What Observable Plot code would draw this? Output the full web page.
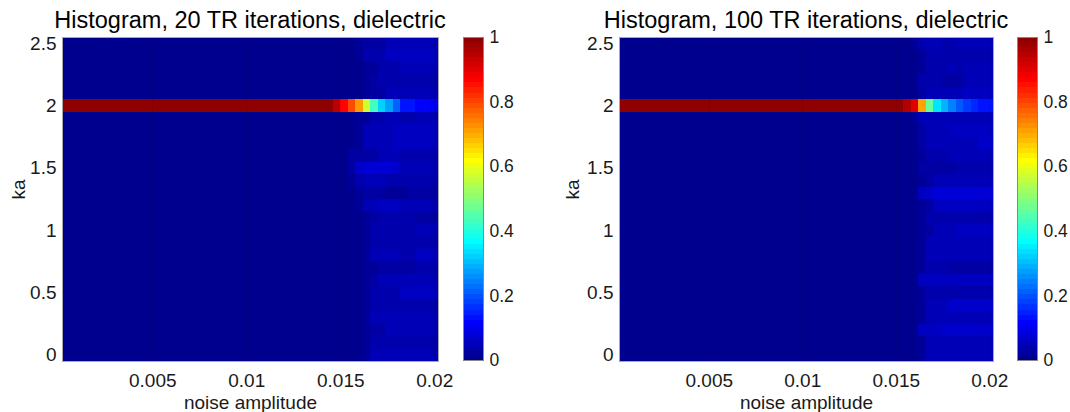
<!DOCTYPE html>
<html>
<head>
<meta charset="utf-8">
<script src="https://cdn.jsdelivr.net/npm/d3@7"></script>
<script src="https://cdn.jsdelivr.net/npm/@observablehq/plot@0.6"></script>
<style>
  body { margin: 0; background: #fff; }
  #chart { position: relative; width: 1070px; height: 412px; overflow: hidden;
           font-family: "Liberation Sans", Arial, Helvetica, sans-serif; color: #1a1a1a; }
  #chart svg { position: absolute; top: 0; }
  .title { position: absolute; top: 9px; font-size: 23.5px; line-height: 1; white-space: nowrap;
           transform: translateX(-50%); color: #000; }
</style>
</head>
<body>
<div id="chart"></div>
<script>
// ---------- data ----------
const titles = ["Histogram, 20 TR iterations, dielectric", "Histogram, 100 TR iterations, dielectric"];
const xLabel = "noise amplitude";
const yLabel = "ka";

// noise amplitude bin centres (columns)
const noiseAmplitude = [
  0.0004, 0.0008, 0.0012, 0.0016, 0.002, 0.0024, 0.0028, 0.0032, 0.0036, 0.004,
  0.0044, 0.0048, 0.0052, 0.0056, 0.006, 0.0064, 0.0068, 0.0072, 0.0076, 0.008,
  0.0084, 0.0088, 0.0092, 0.0096, 0.01, 0.0104, 0.0108, 0.0112, 0.0116, 0.012,
  0.0124, 0.0128, 0.0132, 0.0136, 0.014, 0.0144, 0.0148, 0.0152, 0.0156, 0.016,
  0.0164, 0.0168, 0.0172, 0.0176, 0.018, 0.0184, 0.0188, 0.0192, 0.0196, 0.02
];
const noiseStep = 0.0004;
// ka bin centres, top to bottom (rows)
const ka = [2.5, 2.4, 2.3, 2.2, 2.1, 2.0, 1.9, 1.8, 1.7, 1.6, 1.5, 1.4, 1.3,
            1.2, 1.1, 1.0, 0.9, 0.8, 0.7, 0.6, 0.5, 0.4, 0.3, 0.2, 0.1, 0.0];
const kaStep = 0.1;
const peakKa = 2.0;

const xTicks = [0.005, 0.01, 0.015, 0.02];
const yTicks = [0, 0.5, 1, 1.5, 2, 2.5];
const cbTicks = [0, 0.2, 0.4, 0.6, 0.8, 1];

// fraction in the ka = 2 row, for each noise column
const peak20 = [
  1, 1, 1, 1, 1, 1, 1, 1, 1, 1,
  1, 1, 1, 1, 1, 1, 1, 1, 1, 1,
  1, 1, 1, 1, 1, 1, 1, 1, 1, 1,
  1, 1, 1, 1, 1, 1, 0.95, 0.87, 0.8, 0.72,
  0.57, 0.43, 0.32, 0.27, 0.21, 0.13, 0.13, 0.11, 0.11, 0.1
];
const peak100 = [
  1, 1, 1, 1, 1, 1, 1, 1, 1, 1,
  1, 1, 1, 1, 1, 1, 1, 1, 1, 1,
  1, 1, 1, 1, 1, 1, 1, 1, 1, 1,
  1, 1, 1, 1, 1, 1, 1, 1, 0.96, 0.91,
  0.71, 0.47, 0.34, 0.29, 0.24, 0.2, 0.17, 0.15, 0.13, 0.13
];

// spill-over (in %) into the other ka rows for the last 14 noise columns
// rows follow `ka` order (top to bottom); the ka = 2 row is null
const spreadFirstColumn = 36; // 0-based index of first column listed
const spread20 = [
  [0,0,0,1,2,2,2,4,4,4,4,4,4,4],
  [0,0,0,1,3,3,3,5,5,5,5,5,5,5],
  [0,0,0,0,1,1,3,3,3,4,4,4,4,4],
  [0,0,0,0,1,2,3,3,3,3,3,3,3,3],
  [0,0,0,0,1,2,2,4,4,4,4,4,4,4],
  null,
  [0,0,0,1,1,3,3,4,4,3,3,4,4,4],
  [0,0,0,1,4,4,4,4,5,5,5,5,5,5],
  [0,0,0,1,4,4,4,4,5,5,5,5,5,5],
  [0,0,2,2,2,2,4,4,4,3,3,3,3,3],
  [0,0,2,6,7,7,7,7,6,4,4,4,4,4],
  [0,0,1,3,4,4,4,3,3,3,3,3,3,3],
  [0,0,0,1,2,2,2,1,1,1,2,2,2,2],
  [0,0,0,1,4,4,5,5,5,4,4,4,4,4],
  [0,0,0,0,1,2,3,3,3,3,3,2,2,2],
  [0,0,0,0,1,3,3,3,3,3,3,4,4,4],
  [0,0,0,0,1,3,3,3,3,3,3,3,3,3],
  [0,0,0,0,1,4,4,4,4,3,3,5,5,5],
  [0,0,0,0,1,1,2,2,2,2,2,3,3,3],
  [0,0,0,0,1,2,4,4,4,4,4,4,4,4],
  [0,0,0,0,1,3,3,3,3,5,5,5,5,5],
  [0,0,0,0,1,3,3,3,3,3,3,3,3,3],
  [0,0,0,0,1,4,4,4,4,4,4,4,4,4],
  [0,0,0,0,1,2,2,4,4,4,4,4,4,4],
  [0,0,0,0,1,3,3,3,3,3,3,3,3,3],
  [0,0,0,0,1,4,4,4,4,4,4,4,4,4]
];
const spread100 = [
  [0,0,0,1,3,4,4,3,3,4,4,4,4,4],
  [0,0,0,0,1,3,3,3,3,3,3,3,3,3],
  [0,0,0,0,1,3,3,3,4,3,4,4,4,4],
  [0,0,0,0,3,3,3,2,2,2,4,4,4,4],
  [0,0,0,0,2,4,4,4,4,4,5,5,5,5],
  null,
  [0,0,0,1,4,4,4,4,4,4,4,4,4,4],
  [0,0,0,0,2,4,4,4,5,5,5,5,5,5],
  [0,0,0,0,2,4,4,4,4,4,4,4,6,6],
  [0,0,0,0,1,3,3,3,4,4,4,4,4,4],
  [0,0,0,0,2,2,2,2,2,3,3,3,3,3],
  [0,0,0,0,1,2,4,4,4,4,4,4,4,4],
  [0,0,0,0,5,6,7,7,7,7,7,7,7,7],
  [0,0,0,0,1,2,5,5,5,5,5,5,5,5],
  [0,0,0,0,1,3,3,3,3,3,3,3,3,3],
  [0,0,0,0,1,2,4,4,4,5,5,5,5,5],
  [0,0,0,0,1,4,4,4,4,4,4,4,4,4],
  [0,0,0,0,1,4,4,4,4,4,4,4,4,4],
  [0,0,0,0,1,3,3,3,2,2,2,2,2,2],
  [0,0,0,0,5,5,5,5,5,5,5,5,5,5],
  [0,0,0,0,1,3,3,3,3,3,3,3,3,3],
  [0,0,0,0,1,4,4,4,6,6,6,6,6,6],
  [0,0,0,0,1,4,4,4,4,4,4,4,4,4],
  [0,0,0,0,5,5,5,6,6,6,6,6,6,6],
  [0,0,0,0,1,4,4,4,4,4,4,4,4,4],
  [0,0,0,0,1,4,4,4,4,4,4,4,4,4]
];

// MATLAB jet(64) anchor colours
const jetStops = [0, 7/63, 23/63, 39/63, 55/63, 1];
const jetColors = ["#00008f", "#0000ff", "#00ffff", "#ffff00", "#ff0000", "#8f0000"];
const colorbarLevels = d3.range(64);

// ---------- build ----------
function buildCells(peak, spread) {
  const cells = [];
  noiseAmplitude.forEach((x, j) => {
    ka.forEach((k, i) => {
      let v;
      if (k === peakKa) v = peak[j];
      else {
        const c = j - spreadFirstColumn;
        v = c >= 0 ? spread[i][c] / 100 : 0;
      }
      cells.push({x, ka: k, v});
    });
  });
  return cells;
}

const colorScale = {type: "linear", domain: jetStops, range: jetColors, interpolate: "rgb", clamp: true};
const font = '"Liberation Sans", Arial, Helvetica, sans-serif';

function heatmap(peak, spread, {left, width, marginLeft, marginRight, kaDx}) {
  const svg = Plot.plot({
    width, height: 412,
    marginLeft, marginRight, marginTop: 37, marginBottom: 51,
    style: {fontSize: "19px", fontFamily: font, color: "#1a1a1a", background: "transparent", overflow: "visible"},
    x: {domain: [noiseAmplitude[0] - noiseStep / 2, noiseAmplitude[noiseAmplitude.length - 1] + noiseStep / 2],
        ticks: xTicks, tickFormat: d => String(d), tickSize: 0, tickPadding: 12, label: null},
    y: {domain: [0 - kaStep / 2, 2.5 + kaStep / 2], ticks: yTicks, tickFormat: d => String(d),
        tickSize: 0, tickPadding: 6, label: null},
    color: colorScale,
    marks: [
      Plot.rect(buildCells(peak, spread), {
        x1: d => d.x - noiseStep / 2, x2: d => d.x + noiseStep / 2,
        y1: d => d.ka - kaStep / 2, y2: d => d.ka + kaStep / 2,
        fill: "v", shapeRendering: "crispEdges"
      }),
      Plot.ruleX(xTicks, {stroke: "#000", strokeOpacity: 0.1}),
      Plot.frame({stroke: "#a8a8a8"}),
      Plot.text([xLabel], {frameAnchor: "bottom", dy: 47, fontSize: 19, fill: "#1a1a1a"}),
      Plot.text([yLabel], {frameAnchor: "left", dx: kaDx, rotate: -90, fontSize: 19, fill: "#1a1a1a"})
    ]
  });
  svg.style.left = left + "px";
  return svg;
}

function colorbar(left) {
  const svg = Plot.plot({
    width: 60, height: 412,
    marginLeft: 8, marginRight: 32, marginTop: 37, marginBottom: 52,
    style: {fontSize: "17.5px", fontFamily: font, color: "#1a1a1a", background: "transparent", overflow: "visible"},
    y: {domain: [0, 1], ticks: cbTicks, tickFormat: d => String(d), axis: "right",
        tickSize: 0, tickPadding: 6, label: null},
    color: colorScale,
    marks: [
      Plot.rect(colorbarLevels, {y1: d => d / 64, y2: d => (d + 1) / 64, fill: d => d / 63, shapeRendering: "crispEdges"}),
      Plot.frame({stroke: "#888"})
    ]
  });
  svg.style.left = left + "px";
  return svg;
}

const chart = document.getElementById("chart");
chart.append(heatmap(peak20, spread20, {left: 0, width: 455, marginLeft: 62, marginRight: 17, kaDx: -44}));
chart.append(colorbar(455));
chart.append(heatmap(peak100, spread100, {left: 540, width: 470, marginLeft: 79, marginRight: 17, kaDx: -47}));
chart.append(colorbar(1009));

[[titles[0], 250], [titles[1], 806]].forEach(([t, cx]) => {
  const d = document.createElement("div");
  d.className = "title";
  d.style.left = cx + "px";
  d.textContent = t;
  chart.append(d);
});
</script>
</body>
</html>
